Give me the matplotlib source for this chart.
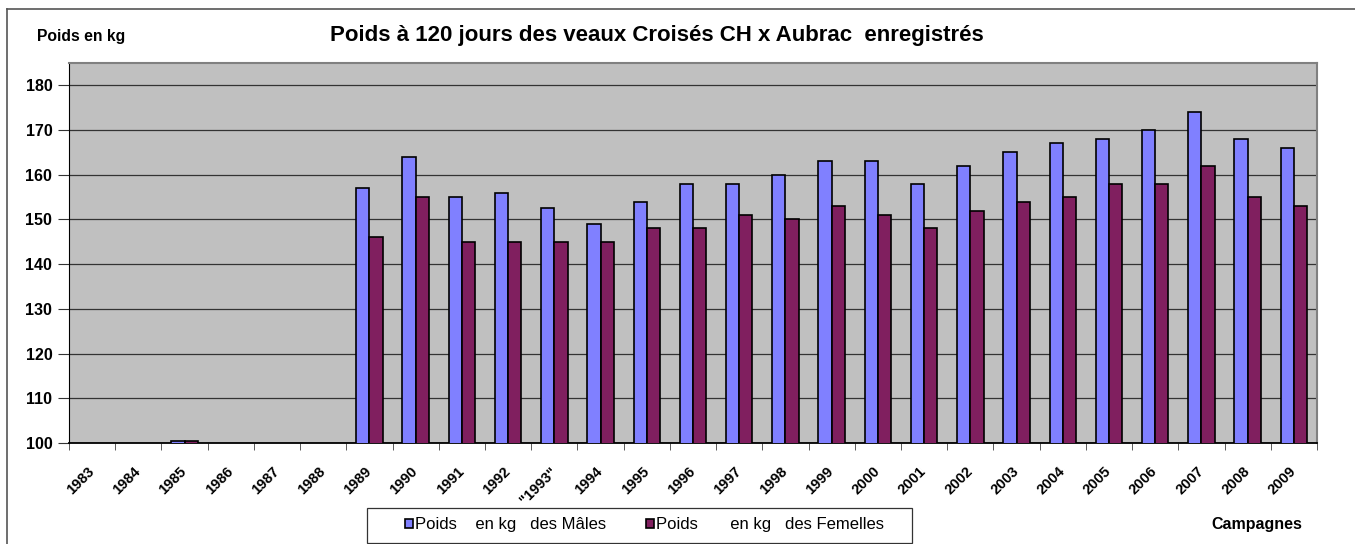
import numpy as np
import matplotlib.pyplot as plt
from matplotlib.lines import Line2D
from matplotlib.patches import Rectangle

plt.rcParams['font.family'] = ['Liberation Sans', 'DejaVu Sans']

# Donnees
campagnes = ['1983', '1984', '1985', '1986', '1987', '1988', '1989', '1990',
             '1991', '1992', '"1993"', '1994', '1995', '1996', '1997', '1998',
             '1999', '2000', '2001', '2002', '2003', '2004', '2005', '2006',
             '2007', '2008', '2009']
males = [np.nan, np.nan, 100.5, np.nan, np.nan, np.nan, 157, 164,
         155, 156, 152.5, 149, 154, 158, 158, 160,
         163, 163, 158, 162, 165, 167, 168, 170,
         174, 168, 166]
femelles = [np.nan, np.nan, 100.5, np.nan, np.nan, np.nan, 146, 155,
            145, 145, 145, 145, 148, 148, 151, 150,
            153, 151, 148, 152, 154, 155, 158, 158,
            162, 155, 153]

W, H = 1355, 544
fig = plt.figure(figsize=(W / 100, H / 100), dpi=100)
ax = fig.add_axes([69 / W, 1 - 443 / H, (1317 - 69) / W, (443 - 63) / H])
ax.set_facecolor('#C0C0C0')

x = np.arange(len(campagnes))
w = 1 / 3.5
ax.bar(x - w / 2, males, w, color='#8080FF', edgecolor='black',
       linewidth=1.2, label='Poids    en kg   des Mâles', zorder=3)
ax.bar(x + w / 2, femelles, w, color='#801F5F', edgecolor='black',
       linewidth=1.2, label='Poids       en kg   des Femelles', zorder=3)

ax.set_xlim(-0.5, len(campagnes) - 0.5)
ax.set_ylim(100, 185)
ax.set_yticks(np.arange(100, 181, 10))
ax.yaxis.grid(True, color='#333333', linewidth=0.9, zorder=1)
ax.set_axisbelow(True)

ax.set_xticks(x)
ax.set_xticklabels(campagnes, rotation=45, ha='right', va='center',
                   rotation_mode='anchor', fontsize=10.5, fontweight='bold')
ax.set_xticks(np.arange(-0.5, len(campagnes), 1), minor=True)
ax.tick_params(axis='x', which='major', length=0, pad=19)
ax.tick_params(axis='x', which='minor', length=5, color='#404040')
ax.tick_params(axis='y', length=8, color='#333333', pad=4)
for lab in ax.get_yticklabels():
    lab.set_fontsize(11.5)
    lab.set_fontweight('bold')

for s in ['top', 'right']:
    ax.spines[s].set_color('#808080')
    ax.spines[s].set_linewidth(1.5)
ax.spines['left'].set_color('black')
ax.spines['bottom'].set_color('black')
ax.spines['bottom'].set_linewidth(1.3)

fig.text(657 / W, 1 - 35 / H, 'Poids à 120 jours des veaux Croisés CH x Aubrac  enregistrés',
         ha='center', va='center', fontsize=16, fontweight='bold')
fig.text(37 / W, 1 - 37 / H, 'Poids en kg', ha='left', va='center',
         fontsize=11.3, fontweight='bold')
fig.text(1257 / W, 1 - 525 / H, 'Campagnes', ha='center', va='center',
         fontsize=11.5, fontweight='bold')

# legende (cadre dessine a part)
leg = fig.legend(loc='center left', bbox_to_anchor=(405 / W, 1 - 525 / H),
                 ncol=2, fontsize=12, frameon=False,
                 handlelength=0.45, handleheight=0.45, handletextpad=0.15,
                 columnspacing=2.4, borderpad=0, borderaxespad=0)
fig.add_artist(Rectangle((367 / W, 1 - 543 / H), (912 - 367) / W, (543 - 508) / H,
                         transform=fig.transFigure, fill=False,
                         edgecolor='#333333', linewidth=0.9))

# cadre du graphique
fig.add_artist(Line2D([7 / W, 1], [1 - 9 / H, 1 - 9 / H], color='#555555', lw=1.2))
fig.add_artist(Line2D([7 / W, 7 / W], [0, 1 - 9 / H], color='#555555', lw=1.2))

fig.savefig('out.png', dpi=100)
